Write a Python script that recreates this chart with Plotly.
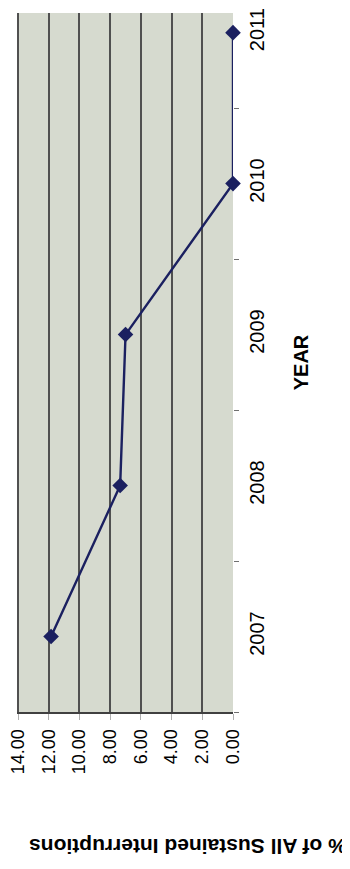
import plotly.graph_objects as go

years = ["2007", "2008", "2009", "2010", "2011"]
pct_values = [11.85, 7.35, 7.0, 0.0, 0.0]
value_ticks = [0, 2, 4, 6, 8, 10, 12, 14]
value_tick_labels = ["0.00", "2.00", "4.00", "6.00", "8.00", "10.00", "12.00", "14.00"]
value_title = "% of All Sustained Interruptions"
year_title = "YEAR"

navy = "#1b2060"
font_family = "Liberation Sans, Arial, sans-serif"

# page has an 8px default body margin, so the figure is sized to fit
W, H = 342, 861
plot_l, plot_r, plot_b = 7, 225, 704

fig = go.Figure()
fig.add_trace(go.Scatter(
    x=pct_values, y=years, mode="lines+markers",
    line=dict(color=navy, width=2.4),
    marker=dict(symbol="diamond", size=12, color=navy),
    cliponaxis=False, showlegend=False,
))

fig.update_layout(
    width=W, height=H,
    margin=dict(l=plot_l, r=W - plot_r, t=0, b=H - plot_b, pad=0),
    paper_bgcolor="white",
    plot_bgcolor="#d6dacf",
    font=dict(family=font_family, color="black"),
    xaxis=dict(
        range=[14.07, 0], tickvals=value_ticks, ticktext=value_tick_labels,
        tickangle=-90, tickfont=dict(size=18),
        showgrid=True, gridcolor="#505050", gridwidth=1.5,
        zeroline=False, showline=True, linecolor="#404040", linewidth=2,
        ticks="outside", ticklen=6, tickcolor="#b0b0b0", tickwidth=1,
        ticklabelstandoff=2, ticklabeloverflow="allow",
        fixedrange=True,
    ),
    yaxis=dict(
        type="category", categoryorder="array", categoryarray=years,
        range=[-0.5, 4.13], side="right", tickson="boundaries",
        tickangle=-90, tickfont=dict(size=20),
        showgrid=False, zeroline=False, showline=False,
        ticks="outside", ticklen=5, tickcolor="#707070",
        ticklabelstandoff=10,
        title=dict(text="<b>" + year_title + "</b>", font=dict(size=20), standoff=26),
        fixedrange=True,
    ),
    annotations=[dict(
        text="<b>" + value_title + "</b>", xref="paper", yref="paper",
        x=(179 - plot_l) / (plot_r - plot_l), y=-(840 - plot_b) / plot_b, textangle=180,
        showarrow=False, font=dict(size=21, color="black"),
        xanchor="center", yanchor="middle",
    )],
)

fig.write_html("out.html")
